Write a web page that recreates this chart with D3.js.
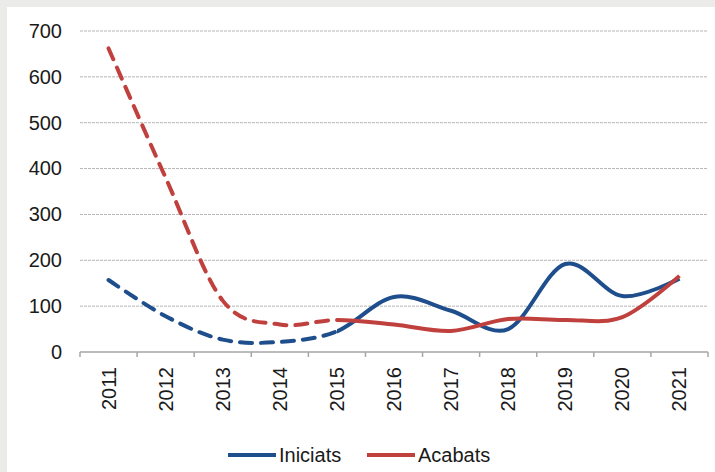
<!DOCTYPE html>
<html>
<head>
<meta charset="utf-8">
<script src="https://cdn.jsdelivr.net/npm/d3@7"></script>
<style>
  body { margin: 0; background: #ebebea; }
  svg { display: block; }
  text { font-family: "Liberation Sans", Arial, sans-serif; fill: #1a1a1a; }
</style>
</head>
<body>
<svg id="chart" width="715" height="472"></svg>
<script>
"use strict";

const years = ["2011", "2012", "2013", "2014", "2015", "2016", "2017", "2018", "2019", "2020", "2021"];
const iniciats = [157, 78, 27, 22, 45, 120, 90, 50, 192, 122, 160];
const acabats = [662, 380, 112, 60, 70, 60, 46, 72, 70, 76, 166];
const yTicks = [0, 100, 200, 300, 400, 500, 600, 700];
const seriesNames = ["Iniciats", "Acabats"];
const seriesColors = ["#1f4e8c", "#c0403e"];
const dashedUntil = "2015";

(function() {
  const svg = d3.select("#chart");
  const width = +svg.attr("width"),
    height = +svg.attr("height");

  // white panel, grey frame only on top/left
  svg.append("rect")
    .attr("x", 7).attr("y", 7)
    .attr("width", width - 7).attr("height", height - 7)
    .attr("fill", "#ffffff");

  const x = d3.scaleBand()
    .domain(years)
    .range([80, 708]);

  const y = d3.scaleLinear()
    .domain([0, 700])
    .range([352, 31]);

  // gridlines
  svg.append("g")
    .selectAll("line")
    .data(yTicks.filter(d => d > 0))
    .enter().append("line")
      .attr("x1", 80).attr("x2", 708)
      .attr("y1", d => y(d)).attr("y2", d => y(d))
      .attr("stroke", "#b5b5b5")
      .attr("stroke-width", 1)
      .attr("stroke-dasharray", "3,1");

  // y labels
  const yAxis = svg.append("g")
    .attr("transform", "translate(80,0)")
    .call(d3.axisLeft(y).tickValues(yTicks).tickSize(0).tickPadding(18));
  yAxis.select(".domain").remove();
  yAxis.selectAll("text")
    .attr("font-size", 20)
    .attr("font-family", "Liberation Sans, Arial, sans-serif")
    .attr("fill", "#1a1a1a");

  // x axis: ticks at category boundaries
  const xg = svg.append("g");
  xg.append("line")
    .attr("x1", 80).attr("x2", 708)
    .attr("y1", y(0)).attr("y2", y(0))
    .attr("stroke", "#a6a6a6")
    .attr("stroke-width", 1.5);
  const bounds = years.map(d => x(d)).concat([x.range()[1]]);
  xg.selectAll("line.tick")
    .data(bounds)
    .enter().append("line")
      .attr("class", "tick")
      .attr("x1", d => d).attr("x2", d => d)
      .attr("y1", y(0)).attr("y2", y(0) + 5)
      .attr("stroke", "#a6a6a6")
      .attr("stroke-width", 1.5);

  xg.selectAll("text")
    .data(years)
    .enter().append("text")
      .attr("transform", d => "translate(" + (x(d) + x.bandwidth() / 2 + 7) + "," + (y(0) + 15) + ") rotate(-90)")
      .attr("text-anchor", "end")
      .attr("font-size", 20)
      .text(d => d);

  const cx = d => x(d) + x.bandwidth() / 2;
  const line = d3.line()
    .x(d => cx(d.year))
    .y(d => y(d.value))
    .curve(d3.curveCatmullRom.alpha(0));

  [iniciats, acabats].forEach((vals, i) => {
    const pts = years.map((yr, j) => ({ year: yr, value: vals[j] }));
    // same smooth curve, clipped into dashed part and solid part
    const clipId = "clip-dash-" + i, clipId2 = "clip-solid-" + i;
    const defs = svg.append("defs");
    defs.append("clipPath").attr("id", clipId)
      .append("rect").attr("x", 0).attr("y", 0)
      .attr("width", cx(dashedUntil)).attr("height", height);
    defs.append("clipPath").attr("id", clipId2)
      .append("rect").attr("x", cx(dashedUntil)).attr("y", 0)
      .attr("width", width).attr("height", height);

    svg.append("path")
      .datum(pts)
      .attr("clip-path", "url(#" + clipId + ")")
      .attr("fill", "none")
      .attr("stroke", seriesColors[i])
      .attr("stroke-width", 4)
      .attr("stroke-linecap", "round")
      .attr("stroke-dasharray", "12,9")
      .attr("d", line);

    svg.append("path")
      .datum(pts)
      .attr("clip-path", "url(#" + clipId2 + ")")
      .attr("fill", "none")
      .attr("stroke", seriesColors[i])
      .attr("stroke-width", 4)
      .attr("d", line);
  });

  // legend
  const legendX = [228, 367];
  const legend = svg.append("g");
  seriesNames.forEach((name, i) => {
    legend.append("line")
      .attr("x1", legendX[i]).attr("x2", legendX[i] + 48)
      .attr("y1", 455).attr("y2", 455)
      .attr("stroke", seriesColors[i])
      .attr("stroke-width", 4);
    legend.append("text")
      .attr("x", legendX[i] + 51)
      .attr("y", 462)
      .attr("font-size", 20)
      .text(name);
  });
})();
</script>
</body>
</html>
